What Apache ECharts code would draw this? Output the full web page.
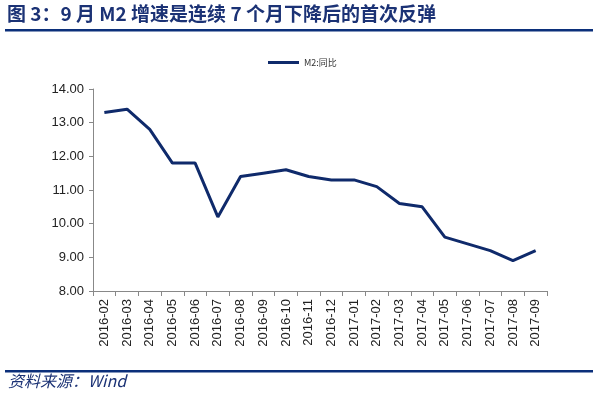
<!DOCTYPE html>
<html><head><meta charset="utf-8">
<script src="https://cdn.jsdelivr.net/npm/echarts@6/dist/echarts.min.js"></script>
<style>html,body{margin:0;padding:0;background:#fff}#c{width:599px;height:395px}</style>
</head><body><div id="c"></div>
<script>
const titleText = '图 3：9 月 M2 增速是连续 7 个月下降后的首次反弹';
const sourceText = '资料来源：Wind';
const seriesName = 'M2:同比';
const categories = ['2016-02','2016-03','2016-04','2016-05','2016-06','2016-07','2016-08','2016-09','2016-10','2016-11','2016-12','2017-01','2017-02','2017-03','2017-04','2017-05','2017-06','2017-07','2017-08','2017-09'];
const m2Values = [13.3,13.4,12.8,11.8,11.8,10.2,11.4,11.5,11.6,11.4,11.3,11.3,11.1,10.6,10.5,9.6,9.4,9.2,8.9,9.2];

const chart = echarts.init(document.getElementById('c'));
const navy = '#0f2a6b';
chart.setOption({
  animation: false,
  backgroundColor: '#fff',
  graphic: [
    {type:'text', left: 7, top: 4, style:{text: titleText, font:'bold 19px "Noto Sans CJK SC", sans-serif', fill:'#1b3275'}},
    {type:'rect', shape:{x:5, y:29, width:588, height:2.5}, style:{fill:'#0b2f7a'}},
    {type:'rect', shape:{x:5, y:370, width:588, height:2.5}, style:{fill:'#0b2f7a'}},
    {type:'text', left: 8, top: 373, style:{text: sourceText, font:'italic 16px "Noto Sans CJK SC", sans-serif', fill:'#1b3275'}}
  ],
  legend: {
    data:[seriesName], top: 53, left: 263,
    itemWidth: 31, itemHeight: 3, itemGap: 3,
    icon: 'rect',
    textStyle:{fontSize: 9, color:'#333', fontFamily:'"Noto Sans CJK SC", serif'}
  },
  grid: {left: 93, right: 52, top: 89, bottom: 104, containLabel:false},
  xAxis: {
    type:'category', data: categories, boundaryGap: true,
    axisLine:{lineStyle:{color:'#888'}},
    axisTick:{show:true, alignWithLabel:false, length:5, lineStyle:{color:'#888'}},
    axisLabel:{rotate:90, fontSize:13, color:'#222', fontFamily:'Liberation Sans, Arial', margin:8, interval:0}
  },
  yAxis: {
    type:'value', min: 8, max: 14, interval: 1,
    axisLine:{show:true, lineStyle:{color:'#888'}},
    axisTick:{show:true, length:4, lineStyle:{color:'#888'}},
    splitLine:{show:false},
    axisLabel:{formatter: v => v.toFixed(2), fontSize:13, color:'#222', fontFamily:'Liberation Sans, Arial', margin:9}
  },
  series: [{
    name: seriesName, type:'line', data: m2Values,
    symbol:'none', lineStyle:{width:3, color: navy}, itemStyle:{color: navy}
  }]
});
</script></body></html>
